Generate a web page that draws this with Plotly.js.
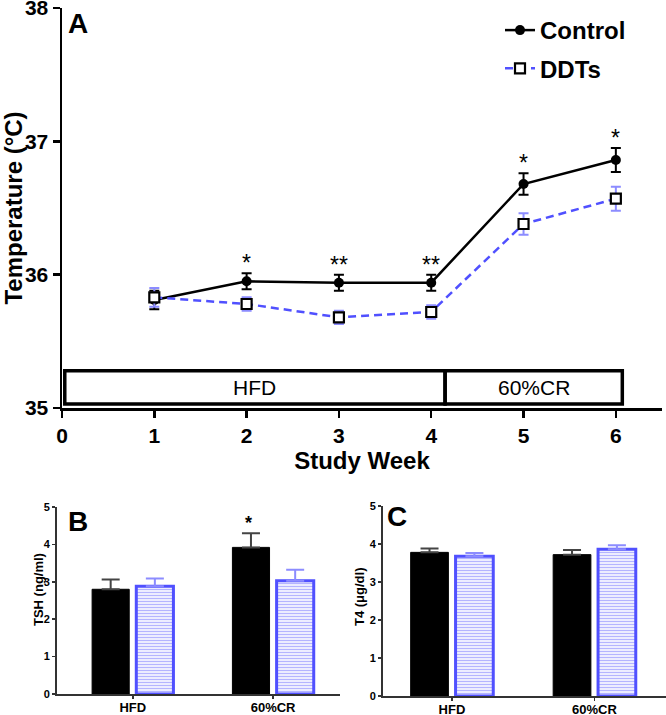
<!DOCTYPE html>
<html>
<head>
<meta charset="utf-8">
<script src="https://cdn.plot.ly/plotly-3.0.1.min.js"></script>
<style>html,body{margin:0;padding:0;background:#fff;}#chart{width:666px;height:715px;}</style>
</head>
<body>
<div id="chart"></div>
<script>
// ---- Panel A data ----
const weeks = [1, 2, 3, 4, 5, 6];
const ctrlTemp = [35.81, 35.95, 35.94, 35.94, 36.68, 36.86];
const ctrlErr  = [0.07, 0.06, 0.06, 0.06, 0.08, 0.09];
const ddtTemp  = [35.83, 35.78, 35.68, 35.72, 36.38, 36.57];
const ddtErr   = [0.07, 0.05, 0.05, 0.05, 0.08, 0.09];
const sigA     = ['', '*', '**', '**', '*', '*'];
const xTicksA  = [0, 1, 2, 3, 4, 5, 6];
const yTicksA  = [35, 36, 37, 38];
const phases   = ['HFD', '60%CR'];

// ---- Panel B / C data ----
const groups     = ['HFD', '60%CR'];
const tshCtrl    = [2.80, 3.92];
const tshCtrlErr = [0.26, 0.38];
const tshDdt     = [2.88, 3.03];
const tshDdtErr  = [0.21, 0.29];
const sigB       = ['', '*'];
const t4Ctrl     = [3.78, 3.72];
const t4CtrlErr  = [0.10, 0.12];
const t4Ddt      = [3.68, 3.86];
const t4DdtErr   = [0.08, 0.11];
const yTicksBC   = [0, 1, 2, 3, 4, 5];

const FONT = 'Arial, "Liberation Sans", Helvetica, sans-serif';
const BLUE = '#5050ff';
const BLUE_ERR = '#8c8cff';

function oneSided(errs) { return errs.map(() => 0); }

const traces = [
  {
    x: weeks, y: ctrlTemp, name: 'Control', type: 'scatter', mode: 'lines+markers',
    xaxis: 'x', yaxis: 'y', legendgroup: 'g1',
    line: {color: '#000', width: 2.5},
    marker: {symbol: 'circle', size: 10, color: '#000'},
    error_y: {type: 'data', array: ctrlErr, visible: true, color: '#000', thickness: 2, width: 5}
  },
  {
    x: weeks, y: ddtTemp, name: 'DDTs', type: 'scatter', mode: 'lines+markers',
    xaxis: 'x', yaxis: 'y', legendgroup: 'g2',
    line: {color: BLUE, width: 2.5, dash: '8px,5px'},
    marker: {symbol: 'square', size: 10, color: '#fff', line: {color: '#000', width: 2.2}},
    error_y: {type: 'data', array: ddtErr, visible: true, color: BLUE_ERR, thickness: 2, width: 5}
  },
  {
    x: groups, y: tshCtrl, type: 'bar', xaxis: 'x2', yaxis: 'y2', showlegend: false,
    marker: {color: '#000', line: {color: '#000', width: 1}},
    error_y: {type: 'data', symmetric: false, array: tshCtrlErr, arrayminus: oneSided(tshCtrlErr), color: '#444', thickness: 2, width: 9}
  },
  {
    x: groups, y: tshDdt, type: 'bar', xaxis: 'x2', yaxis: 'y2', showlegend: false,
    marker: {color: '#c4c4ff', line: {color: BLUE, width: 3},
             pattern: {shape: '-', fgcolor: '#b4b4ff', bgcolor: '#ffffff', size: 3, solidity: 0.5}},
    error_y: {type: 'data', symmetric: false, array: tshDdtErr, arrayminus: oneSided(tshDdtErr), color: BLUE_ERR, thickness: 2, width: 9}
  },
  {
    x: groups, y: t4Ctrl, type: 'bar', xaxis: 'x3', yaxis: 'y3', showlegend: false,
    marker: {color: '#000', line: {color: '#000', width: 1}},
    error_y: {type: 'data', symmetric: false, array: t4CtrlErr, arrayminus: oneSided(t4CtrlErr), color: '#444', thickness: 2, width: 9}
  },
  {
    x: groups, y: t4Ddt, type: 'bar', xaxis: 'x3', yaxis: 'y3', showlegend: false,
    marker: {color: '#c4c4ff', line: {color: BLUE, width: 3},
             pattern: {shape: '-', fgcolor: '#b4b4ff', bgcolor: '#ffffff', size: 3, solidity: 0.5}},
    error_y: {type: 'data', symmetric: false, array: t4DdtErr, arrayminus: oneSided(t4DdtErr), color: BLUE_ERR, thickness: 2, width: 9}
  }
];

const boldTick = (s) => ({family: FONT, size: s, color: '#000', weight: 'bold'});

const axA = {showline: true, linecolor: '#000', linewidth: 2.5, ticks: 'outside', ticklen: 7,
             tickwidth: 2.5, tickcolor: '#000', showgrid: false, zeroline: false, ticklabeloverflow: 'allow'};
const axBC = {showline: true, linecolor: '#333', linewidth: 2, ticks: 'outside', ticklen: 3,
              tickwidth: 1.5, tickcolor: '#333', showgrid: false, zeroline: false, ticklabeloverflow: 'allow'};

const annotations = [];
// significance marks panel A
weeks.forEach((w, i) => {
  if (sigA[i]) annotations.push({x: w, y: ctrlTemp[i] + ctrlErr[i], xref: 'x', yref: 'y',
    text: sigA[i], showarrow: false, yanchor: 'bottom', yshift: -5,
    font: {family: FONT, size: 23, color: '#000'}});
});
// significance panel B
groups.forEach((g, i) => {
  if (sigB[i]) annotations.push({x: g, y: tshCtrl[i] + tshCtrlErr[i], xref: 'x2', yref: 'y2',
    text: sigB[i], showarrow: false, yanchor: 'bottom', yshift: -2, xshift: -25,
    font: {family: FONT, size: 18, color: '#000', weight: 'bold'}});
});
// phase labels
annotations.push({x: 2.09, y: 35.155, xref: 'x', yref: 'y', text: phases[0], showarrow: false,
  font: {family: FONT, size: 21, color: '#000'}});
annotations.push({x: 5.11, y: 35.155, xref: 'x', yref: 'y', text: phases[1], showarrow: false,
  font: {family: FONT, size: 21, color: '#000'}});
// panel letters
annotations.push({x: 66/666, y: 1 - 24/715, xref: 'paper', yref: 'paper', text: 'A', showarrow: false,
  xanchor: 'left', yanchor: 'middle', font: {family: FONT, size: 28, color: '#000', weight: 'bold'}});
annotations.push({x: 66/666, y: 1 - 521/715, xref: 'paper', yref: 'paper', text: 'B', showarrow: false,
  xanchor: 'left', yanchor: 'middle', font: {family: FONT, size: 28, color: '#000', weight: 'bold'}});
annotations.push({x: 385/666, y: 1 - 516/715, xref: 'paper', yref: 'paper', text: 'C', showarrow: false,
  xanchor: 'left', yanchor: 'middle', font: {family: FONT, size: 28, color: '#000', weight: 'bold'}});
// B / C axis titles
annotations.push({x: 38/666, y: 1 - 590/715, xref: 'paper', yref: 'paper', text: 'TSH (ng/ml)', showarrow: false,
  xanchor: 'center', yanchor: 'middle',
  textangle: -90, font: {family: FONT, size: 13, color: '#000', weight: 'bold'}});
annotations.push({x: 359/666, y: 1 - 597/715, xref: 'paper', yref: 'paper', text: 'T4 (μg/dl)', showarrow: false,
  xanchor: 'center', yanchor: 'middle',
  textangle: -90, font: {family: FONT, size: 13, color: '#000', weight: 'bold'}});

const layout = {
  width: 666, height: 715,
  margin: {l: 0, r: 0, t: 0, b: 0},
  paper_bgcolor: '#fff', plot_bgcolor: 'rgba(0,0,0,0)',
  font: {family: FONT, color: '#000'},
  barmode: 'group', bargap: 0.37, bargroupgap: 0.16,
  showlegend: true,
  legend: {x: 500/666, y: 1 - 8/715, xanchor: 'left', yanchor: 'top', bgcolor: 'rgba(0,0,0,0)',
           tracegroupgap: 4,
           font: {family: FONT, size: 24, color: '#000', weight: 'bold'}, itemwidth: 30},
  xaxis: Object.assign({}, axA, {domain: [62/666, 662/666], range: [0, 6.5], tickvals: xTicksA,
    tickfont: boldTick(21), anchor: 'y',
    title: {text: 'Study Week', font: {family: FONT, size: 24, color: '#000', weight: 'bold'}, standoff: 6}}),
  yaxis: Object.assign({}, axA, {domain: [(715-408)/715, (715-8)/715], range: [35, 38], tickvals: yTicksA,
    tickfont: boldTick(21), anchor: 'x',
    title: {text: 'Temperature (°C)', font: {family: FONT, size: 24, color: '#000', weight: 'bold'}, standoff: 5}}),
  xaxis2: Object.assign({}, axBC, {domain: [57/666, 340/666], type: 'category', range: [-0.54, 1.477],
    tickfont: boldTick(13), anchor: 'y2', ticklabelstandoff: -3}),
  yaxis2: Object.assign({}, axBC, {domain: [(715-694)/715, (715-507)/715], range: [0, 5], tickvals: yTicksBC,
    tickfont: boldTick(11), anchor: 'x2'}),
  xaxis3: Object.assign({}, axBC, {domain: [383/666, 1], type: 'category', range: [-0.484, 1.502],
    tickfont: boldTick(13), anchor: 'y3', ticklabelstandoff: -3}),
  yaxis3: Object.assign({}, axBC, {domain: [(715-696)/715, (715-506)/715], range: [0, 5], tickvals: yTicksBC,
    tickfont: boldTick(11), anchor: 'x3'}),
  shapes: [
    {type: 'rect', xref: 'x', yref: 'y', x0: 0.03, x1: 4.15, y0: 35.03, y1: 35.28, line: {color: '#000', width: 3.5}},
    {type: 'rect', xref: 'x', yref: 'y', x0: 4.15, x1: 6.07, y0: 35.03, y1: 35.28, line: {color: '#000', width: 3.5}}
  ],
  annotations: annotations
};

Plotly.newPlot('chart', traces, layout, {displayModeBar: false, staticPlot: true});
</script>
</body>
</html>
